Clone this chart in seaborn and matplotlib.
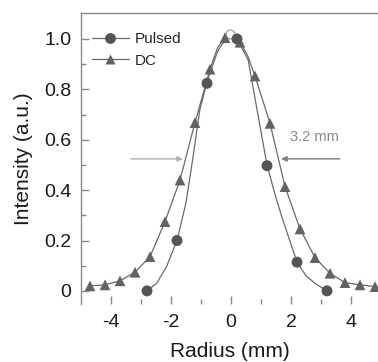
import numpy as np
import pandas as pd
import seaborn as sns
import matplotlib.pyplot as plt
from matplotlib.lines import Line2D

# measured points
pulsed_x = [-2.8, -1.8, -0.8, 0.2, 1.2, 2.2, 3.2]
pulsed_y = [0.0, 0.2, 0.824, 1.0, 0.497, 0.114, 0.0]

dc_x = [-4.7, -4.2, -3.7, -3.2, -2.7, -2.2, -1.7, -1.2, -0.7, -0.2,
        0.3, 0.8, 1.3, 1.8, 2.3, 2.8, 3.3, 3.8, 4.3, 4.8]
dc_y = [0.02, 0.024, 0.04, 0.074, 0.136, 0.275, 0.44, 0.668, 0.88, 1.005,
        0.987, 0.853, 0.665, 0.414, 0.246, 0.132, 0.07, 0.033, 0.024, 0.017]

# fitted curves
pulsed_fit_x = [-2.8, -2.48, -2.15, -1.8, -1.5, -1.28, -1.04, -0.8, -0.45, -0.07,
                0.2, 0.57, 0.87, 1.07, 1.2, 1.45, 1.69, 2.2, 2.5, 2.8, 3.2]
pulsed_fit_y = [0.0, 0.03, 0.096, 0.2, 0.35, 0.52, 0.718, 0.83, 0.95, 1.02,
                1.0, 0.917, 0.718, 0.586, 0.5, 0.39, 0.295, 0.114, 0.06, 0.03, 0.0]

dc_fit_x = [-4.7, -4.2, -3.7, -3.2, -2.7, -2.2, -1.7, -1.2, -0.7, -0.45, -0.2, 0.05,
            0.3, 0.55, 0.8, 1.3, 1.8, 2.3, 2.8, 3.3, 3.8, 4.3, 4.8]
dc_fit_y = [0.02, 0.024, 0.04, 0.074, 0.136, 0.275, 0.44, 0.668, 0.88, 0.965, 1.005, 1.02,
            0.987, 0.935, 0.853, 0.665, 0.414, 0.246, 0.132, 0.07, 0.033, 0.024, 0.017]

peak_x = [-0.05]
peak_y = [1.02]

# FWHM arrows
fwhm_y = 0.524
left_arrow = (-3.33, -1.6)
right_arrow = (3.63, 1.67)
fwhm_text = "3.2 mm"

xticks = [-4, -2, 0, 2, 4]
xtick_labels = ["-4", "-2", "0", "2", "4"]
yticks = [0, 0.2, 0.4, 0.6, 0.8, 1.0]
ytick_labels = ["0", "0.2", "0.4", "0.6", "0.8", "1.0"]

sns.set_theme(style="white")
plt.rcParams['font.family'] = ['Liberation Sans', 'DejaVu Sans']

line_col = "#6a6a6a"
mark_col = "#555555"

fig = plt.figure(figsize=(3.78, 3.62), dpi=100)
ax = fig.add_axes([81/378, 1-304/362, 297/378, 291/362])

pf = pd.DataFrame({"x": pulsed_fit_x, "y": pulsed_fit_y})
df = pd.DataFrame({"x": dc_fit_x, "y": dc_fit_y})
sns.lineplot(data=pf, x="x", y="y", sort=False, color=line_col, lw=0.9, ax=ax)
sns.lineplot(data=df, x="x", y="y", sort=False, color=line_col, lw=0.9, ax=ax)

ax.plot(peak_x, peak_y, 'o', ms=6.5, mfc='white', mec="#888888", mew=0.7, zorder=3)
sns.scatterplot(x=dc_x, y=dc_y, marker='^', s=60, color="#626262", edgecolor='none', ax=ax, zorder=4)
sns.scatterplot(x=pulsed_x, y=pulsed_y, marker='o', s=62, color=mark_col, edgecolor='none', ax=ax, zorder=5)

ax.annotate("", xy=(left_arrow[1], fwhm_y), xytext=(left_arrow[0], fwhm_y),
            arrowprops=dict(arrowstyle='-|>', color="#b0b0b0", lw=1.0, mutation_scale=8, shrinkA=0, shrinkB=0))
ax.annotate("", xy=(right_arrow[1], fwhm_y), xytext=(right_arrow[0], fwhm_y),
            arrowprops=dict(arrowstyle='-|>', color="#808080", lw=1.0, mutation_scale=8, shrinkA=0, shrinkB=0))
ax.text(2.77, 0.61, fwhm_text, ha='center', va='center', fontsize=10.5, color="#888888")

ax.set_xlim(-5, 4.9)
ax.set_ylim(-0.052, 1.103)
ax.set_xticks(xticks, xtick_labels)
ax.set_yticks(yticks, ytick_labels)
ax.set_xticks([-3, -1, 1, 3], minor=True)
ax.set_yticks([0.1, 0.3, 0.5, 0.7, 0.9], minor=True)
ax.tick_params(axis='both', which='major', direction='in', length=6, width=1, color="#888888",
               labelsize=14, labelcolor="#1a1a1a")
ax.tick_params(axis='both', which='minor', direction='in', length=3.5, width=1, color="#888888")
ax.tick_params(axis='x', which='both', bottom=True, pad=7)
ax.tick_params(axis='y', which='both', left=True, pad=7)

for s in ['right', 'bottom']:
    ax.spines[s].set_visible(False)
for s in ['top', 'left']:
    ax.spines[s].set_color("#8a8a8a")
    ax.spines[s].set_linewidth(1.0)

ax.set_xlabel("Radius (mm)", fontsize=15, color="#1a1a1a")
ax.set_ylabel("Intensity (a.u.)", fontsize=15, color="#1a1a1a")
ax.xaxis.set_label_coords(0.5, -0.13)
ax.yaxis.set_label_coords(-0.16, 0.5)

handles = [Line2D([], [], color=line_col, lw=0.9, marker='o', ms=7.8, mfc=mark_col, mec='none'),
           Line2D([], [], color=line_col, lw=0.9, marker='^', ms=7.8, mfc="#626262", mec='none')]
ax.legend(handles, ["Pulsed", "DC"], loc='upper left', bbox_to_anchor=(0.037, 0.935),
          frameon=False, fontsize=11, handlelength=2.4, handletextpad=0.4,
          borderpad=0, borderaxespad=0, labelspacing=0.5)

fig.savefig("out.png", dpi=100)
